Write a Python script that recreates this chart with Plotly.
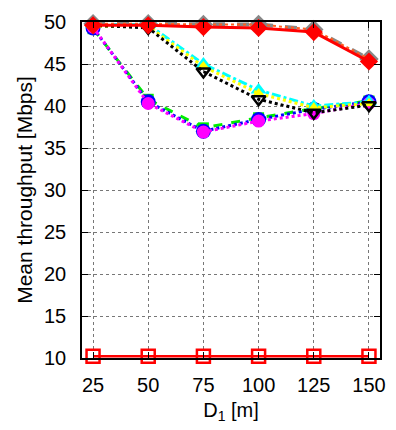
import plotly.graph_objects as go

x = [25, 50, 75, 100, 125, 150]
y_red_sq = [10.2, 10.2, 10.2, 10.2, 10.2, 10.2]
y_red_dia = [49.6, 49.6, 49.4, 49.3, 48.8, 45.3]
y_gray_dia = [49.8, 49.8, 49.7, 49.7, 49.1, 45.6]
y_cyan = [49.7, 49.7, 45.0, 41.9, 40.0, 40.5]
y_yellow = [49.5, 49.5, 44.7, 41.5, 39.8, 40.3]
y_black = [49.6, 49.3, 44.1, 40.8, 39.2, 40.1]
y_green = [49.2, 40.8, 37.4, 38.6, 39.7, 40.6]
y_blue = [49.3, 40.5, 37.0, 38.4, 39.6, 40.5]
y_magenta = [49.4, 40.3, 36.9, 38.2, 39.1, 40.3]

xticks = [25, 50, 75, 100, 125, 150]
yticks = [10, 15, 20, 25, 30, 35, 40, 45, 50]

fig = go.Figure()

def add(y, color, dash, width, symbol, msize, mcolor, mline=None, mlw=0):
    fig.add_trace(go.Scatter(
        x=x, y=y, mode="lines+markers",
        line=dict(color=color, dash=dash, width=width),
        marker=dict(symbol=symbol, size=msize, color=mcolor,
                    line=dict(color=mline if mline else mcolor, width=mlw)),
        showlegend=False, cliponaxis=False))

add(y_green, "#00ee00", "dash", 3, "square", 11, "#00ee00")
add(y_blue, "#0000ff", "dot", 3, "circle", 15, "#0000ff")
add(y_magenta, "#ff00ff", "dot", 3, "circle", 13, "#ff00ff")
add(y_cyan, "#00ffff", "dashdot", 3, "triangle-up", 14, "#00ffff")
add(y_yellow, "#ffff00", "dot", 3, "triangle-up", 11, "#ffff00")
add(y_black, "#000000", "dot", 3, "triangle-down-open", 12, "#000000", "#000000", 2.5)
add(y_gray_dia, "#888888", "dash", 4, "diamond", 15, "#888888")
fig.add_trace(go.Scatter(x=x, y=y_gray_dia, mode="lines",
                         line=dict(color="#ff6020", dash="dot", width=2),
                         showlegend=False))
add(y_red_dia, "#ff0000", "solid", 3, "diamond", 14, "#ff0000")
add(y_red_sq, "#ff0000", "solid", 2.5, "square-open", 13, "#ff0000", "#ff0000", 2.5)

font = "Liberation Sans, Arial, sans-serif"
fig.update_layout(
    width=396, height=430,
    margin=dict(l=82, r=11, t=16, b=72),
    plot_bgcolor="white", paper_bgcolor="white",
    font=dict(family=font, size=20, color="black"),
)
fig.update_xaxes(
    range=[20, 155], tickvals=xticks, ticktext=[str(t) for t in xticks],
    showline=True, linecolor="black", linewidth=1.5, mirror="ticks",
    ticks="inside", ticklen=6, tickcolor="black",
    showgrid=True, gridcolor="#777777", griddash="dot", gridwidth=1,
    zeroline=False, ticklabelstandoff=8,
    title=dict(text="D<sub>1</sub> [m]", font=dict(size=20), standoff=8),
)
fig.update_yaxes(
    range=[10, 50], tickvals=yticks, ticktext=[str(t) for t in yticks],
    showline=True, linecolor="black", linewidth=1.5, mirror="ticks",
    ticks="inside", ticklen=6, tickcolor="black",
    showgrid=True, gridcolor="#777777", griddash="dot", gridwidth=1,
    zeroline=False, ticklabelstandoff=10,
    title=dict(text="Mean throughput [Mbps]", font=dict(size=21), standoff=6),
)

fig.write_html("out.html")
